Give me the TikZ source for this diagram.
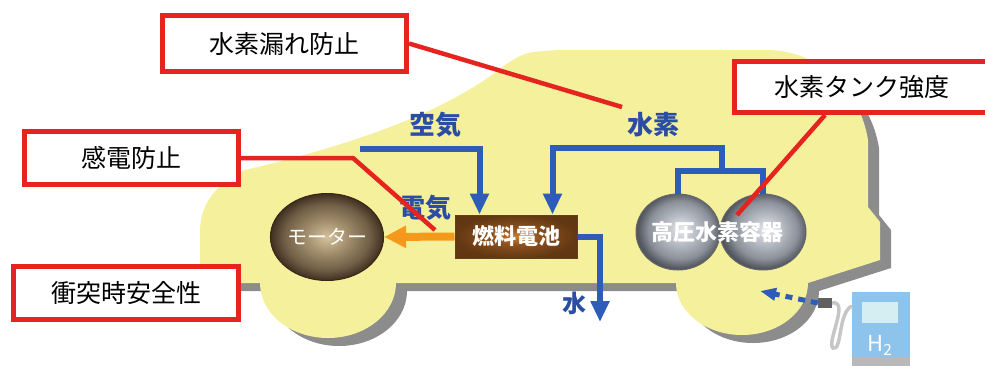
\documentclass[tikz,border=0pt]{standalone}
\usepackage{fontspec}
\setmainfont{Noto Sans CJK JP}
\usepackage{tikz}
\usetikzlibrary{arrows.meta,positioning,calc,shapes.geometric}
\definecolor{bodyyellow}{HTML}{F5F09C}
\definecolor{shadowgrey}{HTML}{8C8C8C}
\definecolor{notered}{HTML}{E52420}
\definecolor{pipeblue}{HTML}{2D5DB8}
\definecolor{labelblue}{HTML}{2B4DA3}
\definecolor{powerorange}{HTML}{F39A1C}
\definecolor{pumpblue}{HTML}{8EC4EC}
\definecolor{screencyan}{HTML}{D4EEF1}
% spheres and the cell, light in the middle (edge of the shape at 25bp)
\pgfdeclareradialshading{tankshade}{\pgfpoint{2bp}{2bp}}{%
  color(0bp)=(rgb,255:red,232;green,234;blue,238); color(9bp)=(rgb,255:red,186;green,190;blue,198);
  color(19bp)=(rgb,255:red,140;green,144;blue,154); color(25bp)=(rgb,255:red,82;green,86;blue,94);
  color(50bp)=(rgb,255:red,82;green,86;blue,94)}
\pgfdeclareradialshading{motorshade}{\pgfpoint{0bp}{0bp}}{%
  color(0bp)=(rgb,255:red,212;green,194;blue,158); color(9bp)=(rgb,255:red,164;green,144;blue,110);
  color(19bp)=(rgb,255:red,112;green,94;blue,70); color(25bp)=(rgb,255:red,62;green,48;blue,32);
  color(50bp)=(rgb,255:red,62;green,48;blue,32)}
\pgfdeclareradialshading{cellshade}{\pgfpoint{0bp}{0bp}}{%
  color(0bp)=(rgb,255:red,200;green,126;blue,52); color(10bp)=(rgb,255:red,140;green,80;blue,30);
  color(25bp)=(rgb,255:red,98;green,56;blue,18); color(50bp)=(rgb,255:red,90;green,50;blue,16)}
\tikzset{
  notebox/.style={draw=notered, line width=5pt, fill=white, inner sep=0pt, font=\fontsize{25}{30}\selectfont},
  leader/.style={draw=notered, line width=4.5pt},
  pipeline/.style={draw=pipeblue, line width=6pt},
  pipe/.style={pipeline, -{Triangle[length=21pt,width=18pt]}},
  powerarc/.style={draw=powerorange, line width=8pt, -{Triangle[length=22pt,width=21pt]}},
  fillarc/.style={draw=pipeblue, line width=5pt, dash pattern=on 7pt off 6pt, -{Triangle[length=16pt,width=12pt]}},
  flowlabel/.style={text=labelblue, inner sep=0pt, font=\fontsize{26}{30}\selectfont\bfseries},
  whitelabel/.style={text=white, inner sep=0pt, font=\fontsize{22}{26}\selectfont},
  tanknode/.style={ellipse, draw=black!60, line width=1pt, minimum height=76pt, shading=tankshade}
}

\begin{document}
\begin{tikzpicture}[x=1pt, y=1pt]
  \path[use as bounding box, clip] (0,0) rectangle (985,-365);

  % car body, shadow first
  \foreach \dx/\dy/\col in {11/-8/shadowgrey, 0/0/bodyyellow}
    \fill[fill=\col, shift={(\dx,\dy)}]
      (200,-272) -- (200,-232) .. controls (200,-205) and (215,-184) .. (245,-170)
      .. controls (330,-150) and (440,-118) .. (505,-65)
      .. controls (525,-52) .. (560,-50) -- (770,-50)
      .. controls (820,-52) and (860,-90) .. (868,-140) -- (868,-207)
      -- (880,-222) -- (880,-260) -- (808,-283)
      arc[start angle=0, end angle=-180, x radius=66, y radius=52]
      -- (396,-283)
      arc[start angle=0, end angle=-180, x radius=68, y radius=55]
      -- (208,-283) .. controls (200,-283) .. (200,-272) -- cycle;

  % fuel cell, motor, tanks
  \node[draw=brown!50!black, line width=1pt, minimum width=122pt, minimum height=43pt,
        shading=cellshade, whitelabel, font=\fontsize{22}{26}\selectfont\bfseries] (fc) at (516,-236.5) {燃料電池};
  \node[ellipse, draw=brown!30!black, line width=1pt, minimum width=96pt, minimum height=87pt,
        shading=motorshade, whitelabel, font=\fontsize{20}{24}\selectfont] (motor) at (327,-237) {モーター};
  \node[tanknode, minimum width=84pt] (tankL) at (678,-232) {};
  \node[tanknode, minimum width=86pt] (tankR) at (763,-232) {};
  \node[whitelabel, font=\fontsize{22}{26}\selectfont\bfseries] (tanklbl) at (717,-232) {高圧水素容器};

  % air, hydrogen, water
  \coordinate (air) at (360,-149);
  \coordinate (hjoin) at (722,-172);
  \coordinate (wout) at (600,-322);
  \draw[pipe] (air) -| ([xshift=25pt]fc.north west);
  \draw[pipeline] (tankL.north) -- ++(0,23) -| (tankR.north);
  \draw[pipe] (hjoin) -- ++(0,24) -| ([xshift=-25pt]fc.north east);
  \draw[pipe] (fc.east) -| (wout);
  \draw[powerarc] (fc.west) -- (motor.east);

  \node[flowlabel] (airlbl) at (435,-125) {空気};
  \node[flowlabel] (eleclbl) at (425,-208) {電気};
  \node[flowlabel] (h2lbl) at (653,-125) {水素};
  \node[flowlabel, font=\fontsize{24}{28}\selectfont\bfseries] (waterlbl) at (574,-303) {水};

  % filling station
  \node[fill=pumpblue, minimum width=58pt, minimum height=68pt, inner sep=0pt] (pump) at (881,-326) {};
  \node[fill=screencyan, minimum width=36pt, minimum height=21pt, inner sep=0pt] (screen) at (880,-312.5) {};
  \node[text=white, inner sep=0pt, font=\fontsize{22}{26}\selectfont] (pumplbl) at (880,-345) {H\textsubscript{2}};
  \fill[gray!55] (852,-357) rectangle (910,-366);
  \node[fill=gray!75!black, minimum width=14pt, minimum height=10pt, inner sep=0pt] (nozzle) at (825,-303) {};
  \coordinate (fillpt) at (760,-291);
  \draw[gray!45, line width=3.5pt] (nozzle.east) .. controls (850,-300) and (826,-343) .. (833,-348)
    .. controls (842,-352) and (838,-312) .. (852,-306);
  \draw[fillarc] (nozzle.west) -- (fillpt);

  % callouts
  \node[notebox, minimum width=244pt, minimum height=56pt] (leak) at (284.5,-43.5) {水素漏れ防止};
  \node[notebox, minimum width=214pt, minimum height=53pt] (shock) at (131.5,-158) {感電防止};
  \node[notebox, minimum width=225pt, minimum height=53pt] (crash) at (126,-293) {衝突時安全性};
  \node[notebox, minimum width=255pt, minimum height=51pt] (tankbox) at (862,-87) {水素タンク強度};

  \coordinate (leakpt) at (622,-107);
  \coordinate (shockpt) at (435,-230);
  \coordinate (tankpt) at (737,-215);
  \draw[leader] (leak.east) -- (leakpt);
  \draw[leader] (shock.east) -- ++(112,0) -- (shockpt);
  \draw[leader] ([xshift=-37pt]tankbox.south) -- (tankpt);
\end{tikzpicture}
\end{document}
